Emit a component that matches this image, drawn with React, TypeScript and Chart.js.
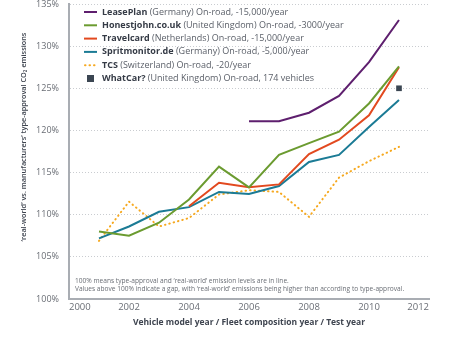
import React, { useEffect, useRef } from "react";
import { Chart, registerables } from "chart.js";

Chart.register(...registerables);

const years = [2001, 2002, 2003, 2004, 2005, 2006, 2007, 2008, 2009, 2010, 2011];
const leasePlan = [null, null, null, null, null, 121.1, 121.1, 122.1, 124.1, 128.1, 133.1];
const honestJohn = [108.0, 107.5, 109.05, 111.8, 115.7, 113.25, 117.1, 118.5, 119.85, 123.2, 127.6];
const travelcard = [null, null, null, 111.0, 113.8, 113.25, 113.6, 117.2, 118.9, 121.8, 127.5];
const spritmonitor = [107.2, 108.6, 110.35, 110.9, 112.7, 112.45, 113.4, 116.25, 117.1, 120.4, 123.6];
const tcs = [106.9, 111.55, 108.6, 109.6, 112.4, 112.9, 112.7, 109.75, 114.4, 116.35, 118.05];
const whatCar = [null, null, null, null, null, null, null, null, null, null, 125.0];

const legendNames = ["LeasePlan", "Honestjohn.co.uk", "Travelcard", "Spritmonitor.de", "TCS", "WhatCar?"];
const legendDetails = [
  " (Germany) On-road, -15,000/year",
  " (United Kingdom) On-road, -3000/year",
  " (Netherlands) On-road, -15,000/year",
  " (Germany) On-road, -5,000/year",
  " (Switzerland) On-road, -20/year",
  " (United Kingdom) On-road, 174 vehicles",
];
const noteLines = [
  "100% means type-approval and ‘real-world’ emission levels are in line.",
  "Values above 100% indicate a gap, with ‘real-world’ emissions being higher than according to type-approval.",
];
const yTitle = "‘real-world’ vs. manufacturers’ type-approval CO₂ emissions";

const COLORS = {
  leasePlan: "#5e1f6e",
  honestJohn: "#6b9b30",
  travelcard: "#e2491f",
  spritmonitor: "#1b7b95",
  tcs: "#f6a920",
  whatCar: "#3b4652",
};
const FONT = "'Open Sans', sans-serif";

const toPoints = (vals: (number | null)[]) =>
  years.map((y, i) => ({ x: y, y: vals[i] })).filter((p) => p.y !== null);

const overlayPlugin = {
  id: "overlay",
  afterDraw(chart: any) {
    const ctx = chart.ctx;
    const area = chart.chartArea;
    ctx.save();
    const colors = [COLORS.leasePlan, COLORS.honestJohn, COLORS.travelcard, COLORS.spritmonitor, COLORS.tcs, COLORS.whatCar];
    const x0 = area.left + 15;
    const y0 = area.top + 8;
    const step = 13.3;
    for (let i = 0; i < legendNames.length; i++) {
      const cy = y0 + i * step;
      ctx.strokeStyle = colors[i];
      ctx.fillStyle = colors[i];
      if (i === 5) {
        ctx.fillRect(x0 + 3, cy - 3.5, 7, 7);
      } else if (i === 4) {
        ctx.lineWidth = 2;
        ctx.lineCap = "round";
        ctx.setLineDash([0.5, 4]);
        ctx.beginPath();
        ctx.moveTo(x0 + 1, cy);
        ctx.lineTo(x0 + 13, cy);
        ctx.stroke();
        ctx.setLineDash([]);
        ctx.lineCap = "butt";
      } else {
        ctx.lineWidth = 2;
        ctx.beginPath();
        ctx.moveTo(x0, cy);
        ctx.lineTo(x0 + 13, cy);
        ctx.stroke();
      }
      ctx.textBaseline = "middle";
      ctx.textAlign = "left";
      ctx.font = `bold 9px ${FONT}`;
      ctx.fillStyle = "#353b46";
      const tx = x0 + 18;
      ctx.fillText(legendNames[i], tx, cy);
      const w = ctx.measureText(legendNames[i]).width;
      ctx.font = `9px ${FONT}`;
      ctx.fillStyle = "#5a5f68";
      ctx.fillText(legendDetails[i], tx + w, cy);
    }
    ctx.font = `6.6px ${FONT}`;
    ctx.fillStyle = "#6a6e75";
    ctx.fillText(noteLines[0], area.left + 6, 281);
    ctx.fillText(noteLines[1], area.left + 6, 289);

    ctx.translate(24, 137);
    ctx.rotate(-Math.PI / 2);
    ctx.textAlign = "center";
    ctx.font = `600 7.3px ${FONT}`;
    ctx.fillStyle = "#3f4550";
    ctx.fillText(yTitle, 0, 0);
    ctx.restore();
  },
};

export default function App() {
  const ref = useRef<HTMLCanvasElement>(null);
  useEffect(() => {
    document.body.style.margin = "0";
    const chart = new Chart(ref.current!, {
      type: "line",
      data: {
        datasets: [
          { label: "WhatCar?", data: toPoints(whatCar), showLine: false, pointStyle: "rect", pointRadius: 4, backgroundColor: COLORS.whatCar, borderColor: COLORS.whatCar, borderWidth: 0 },
          { label: "LeasePlan", data: toPoints(leasePlan), borderColor: COLORS.leasePlan, borderWidth: 2, pointRadius: 0 },
          { label: "Honestjohn.co.uk", data: toPoints(honestJohn), borderColor: COLORS.honestJohn, borderWidth: 2, pointRadius: 0 },
          { label: "Travelcard", data: toPoints(travelcard), borderColor: COLORS.travelcard, borderWidth: 2, pointRadius: 0 },
          { label: "Spritmonitor.de", data: toPoints(spritmonitor), borderColor: COLORS.spritmonitor, borderWidth: 2, pointRadius: 0 },
          { label: "TCS", data: toPoints(tcs), borderColor: COLORS.tcs, borderWidth: 2, borderDash: [0.5, 4], borderCapStyle: "round", pointRadius: 0 },
        ],
      },
      options: {
        animation: false,
        responsive: false,
        maintainAspectRatio: false,
        layout: { padding: { top: 4, right: 21, bottom: 0, left: 0 } },
        plugins: { legend: { display: false }, tooltip: { enabled: false } },
        scales: {
          x: {
            type: "linear",
            min: 2000,
            max: 2012,
            ticks: { stepSize: 2, align: "inner", padding: 3, color: "#6a6e75", font: { family: FONT, size: 9.5 }, callback: (v: any) => String(v) },
            grid: { display: false, drawTicks: false },
            border: { display: true, color: "#a9adb3", width: 2 },
            title: { display: true, text: "Vehicle model year / Fleet composition year / Test year", color: "#3f4550", font: { family: FONT, size: 8.5, weight: "bold" }, padding: { top: 4, bottom: 25 } },
            afterFit: (s: any) => { s.height = 54; s.paddingLeft = 0; s.paddingRight = 0; },
          },
          y: {
            min: 100,
            max: 135,
            ticks: { stepSize: 5, padding: 10, color: "#6a6e75", font: { family: FONT, size: 9 }, callback: (v: any) => v + "%" },
            grid: { color: "#c9ccd0", lineWidth: 1, drawTicks: false },
            border: { display: true, color: "#a9adb3", width: 2, dash: [1, 2] },
            afterFit: (s: any) => { s.width = 69; s.paddingTop = 0; s.paddingBottom = 0; },
          },
        },
      },
      plugins: [overlayPlugin],
    });
    return () => chart.destroy();
  }, []);
  return (
    <div style={{ position: "absolute", left: 0, top: 0, width: 450, height: 353 }}>
      <canvas ref={ref} width={450} height={353} style={{ width: 450, height: 353 }} />
    </div>
  );
}
